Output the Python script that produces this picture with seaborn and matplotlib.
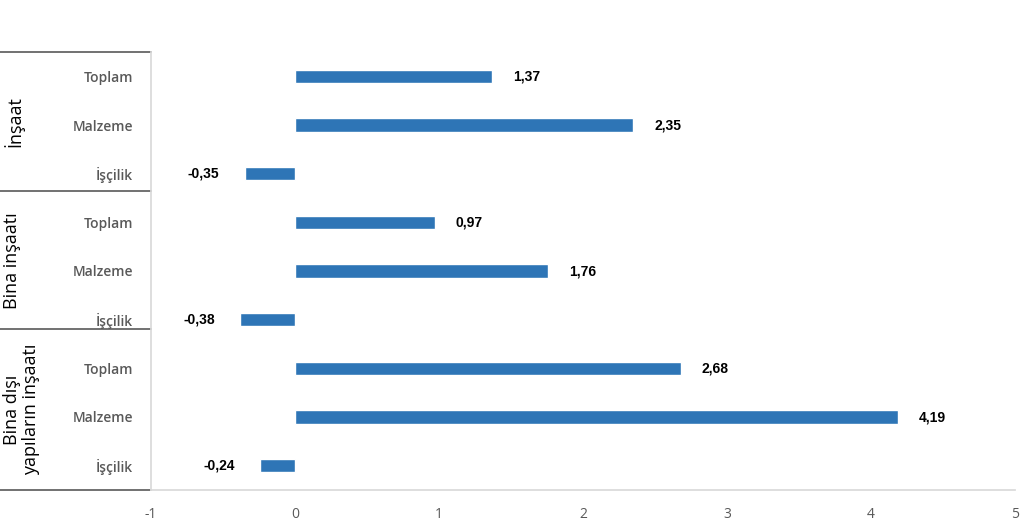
import matplotlib
matplotlib.use('Agg')
import matplotlib.pyplot as plt
import matplotlib.transforms as mtransforms
import pandas as pd
import seaborn as sns

# %% --- Data ---
groups = ['İnşaat', 'Bina inşaatı', 'Bina dışı\nyapıların inşaatı']
items = ['Toplam', 'Malzeme', 'İşçilik']
values = [1.37, 2.35, -0.35,
          0.97, 1.76, -0.38,
          2.68, 4.19, -0.24]
x_ticks = [-1, 0, 1, 2, 3, 4, 5]

rows = [(g, it) for g in groups for it in items]
df = pd.DataFrame({
    'grup': [r[0] for r in rows],
    'kalem': [r[1] for r in rows],
    'deger': values,
})
df['key'] = df['grup'] + '|' + df['kalem']

# %% --- Plot ---
sns.set_theme(style='white')
plt.rcParams['font.family'] = ['Open Sans', 'DejaVu Sans']

fig = plt.figure(figsize=(10.24, 5.26), dpi=100)
ax = fig.add_axes([151 / 1024, 36 / 526, 864 / 1024, 438 / 526])

sns.barplot(data=df, x='deger', y='key', orient='h', color='#2E75B6',
            saturation=1, width=0.27, ax=ax)

ax.set_xlim(-1, 5)
ax.set_ylim(len(df) - 0.5, -0.5)
ax.set_xticks(x_ticks)
ax.set_xticklabels([str(t) for t in x_ticks], color='#595959', fontsize=10)
ax.set_yticks(range(len(df)))
ax.set_yticklabels(df['kalem'], color='#595959', fontsize=10, fontweight='semibold')
ax.tick_params(axis='both', length=0)
ax.tick_params(axis='y', pad=13)
ax.tick_params(axis='x', pad=12)
ax.set_xlabel('')
ax.set_ylabel('')

for s in ['top', 'right']:
    ax.spines[s].set_visible(False)
ax.spines['left'].set_color('#d9d9d9')
ax.spines['bottom'].set_color('#d9d9d9')

# value labels
for i, v in enumerate(df['deger']):
    label = f'{v:.2f}'.replace('.', ',')
    if v >= 0:
        ax.annotate(label, (v, i), xytext=(15, 0), textcoords='offset points',
                    ha='left', va='center', fontsize=10, fontweight='bold',
                    family='Liberation Sans', color='black')
    else:
        ax.annotate(label, (v, i), xytext=(-18, 0), textcoords='offset points',
                    ha='right', va='center', fontsize=10, fontweight='bold',
                    family='Liberation Sans', color='black')

# group brackets on the left
trans = mtransforms.blended_transform_factory(ax.transAxes, ax.transData)
x_left = -151 / 864
for yb in [-0.5, 2.36, 5.2, 8.5]:
    ax.plot([x_left, 0], [yb, yb], transform=trans, color='#595959', lw=1.2,
            clip_on=False)
group_mid = [(-0.5 + 2.36) / 2, (2.36 + 5.2) / 2, (5.2 + 8.5) / 2]
for g, ym in zip(groups, group_mid):
    ax.text(x_left + 0.004, ym, g, transform=trans, rotation=90, ha='left',
            va='center', multialignment='center', fontsize=13, color='black',
            linespacing=1.05)

fig.savefig('out.png', dpi=100)
